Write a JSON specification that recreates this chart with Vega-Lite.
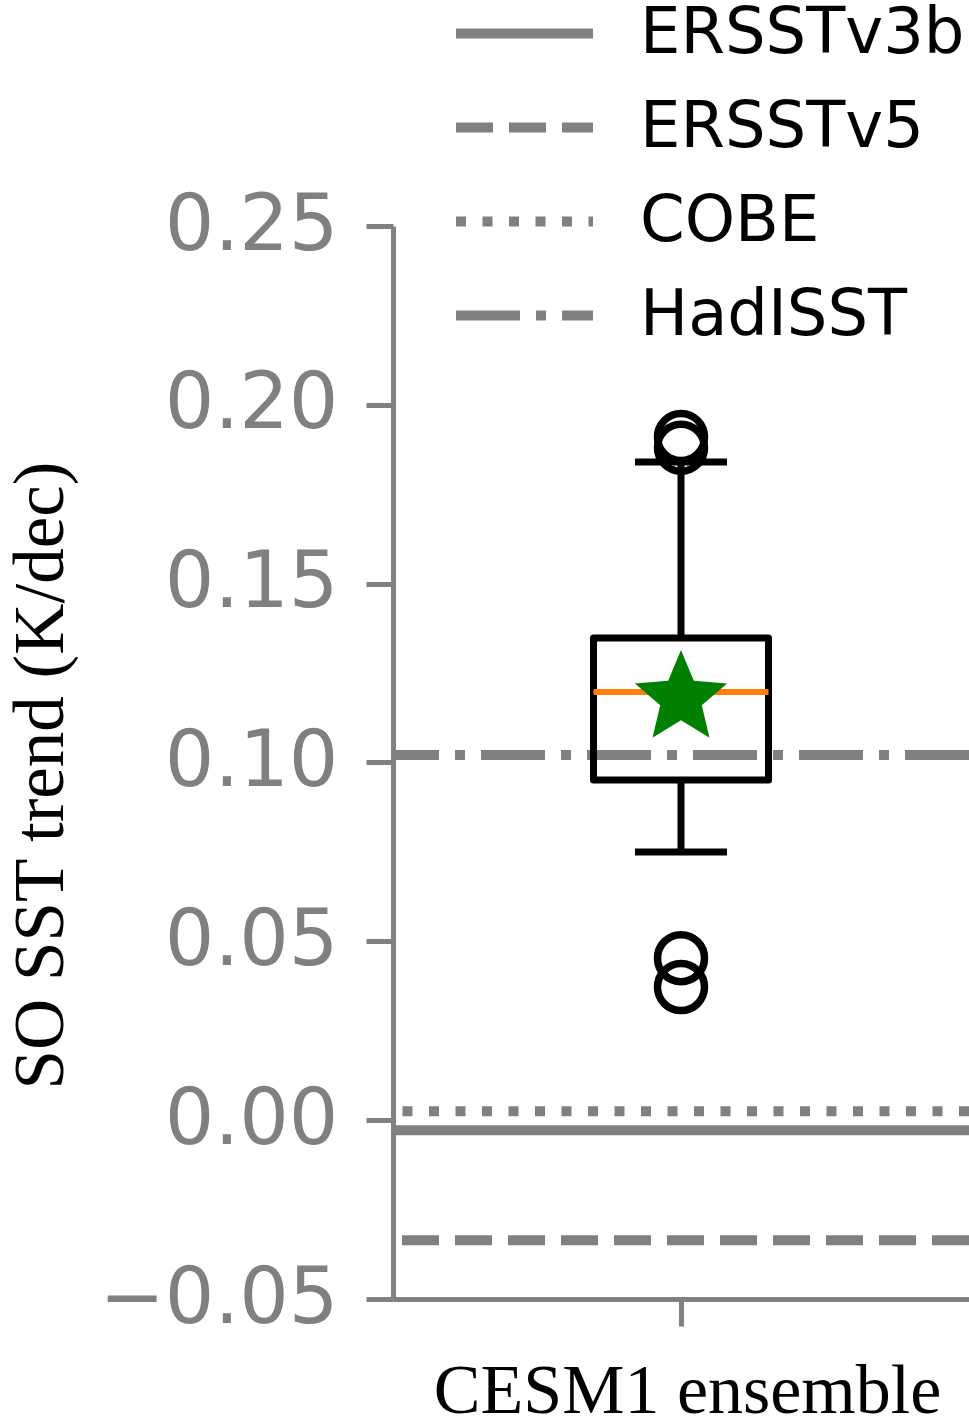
{
  "$schema": "https://vega.github.io/schema/vega-lite/v6.json",
  "autosize": "none",
  "padding": {"left": 393, "top": 226, "right": 0, "bottom": 125},
  "width": 576,
  "height": 1073,
  "background": "white",
  "config": {"view": {"stroke": null}},
  "datasets": {
    "refs": [
      {"dataset": "ERSSTv3b", "trend": -0.0028},
      {"dataset": "ERSSTv5", "trend": -0.0336},
      {"dataset": "COBE", "trend": 0.0025},
      {"dataset": "HadISST", "trend": 0.1021}
    ],
    "box": [
      {"group": "CESM1 ensemble", "lower": 0.075, "q1": 0.0951, "median": 0.1197, "q3": 0.1348, "upper": 0.184, "mean": 0.1179}
    ],
    "outliers": [
      {"group": "CESM1 ensemble", "trend": 0.191},
      {"group": "CESM1 ensemble", "trend": 0.188},
      {"group": "CESM1 ensemble", "trend": 0.0453},
      {"group": "CESM1 ensemble", "trend": 0.0372}
    ]
  },
  "layer": [
    {
      "data": {"name": "refs"},
      "mark": {"type": "rule", "color": "#808080", "strokeWidth": 10, "opacity": 1},
      "encoding": {
        "y": {
          "field": "trend", "type": "quantitative",
          "scale": {"domain": [-0.05, 0.25], "nice": false, "zero": false},
          "axis": {
            "title": "SO SST trend (K/dec)",
            "values": [-0.05, 0, 0.05, 0.1, 0.15, 0.2, 0.25], "format": ".2f",
            "labelFont": "DejaVu Sans", "labelFontSize": 78, "labelColor": "#808080", "labelPadding": 28, "labelLimit": 500,
            "titleFont": "Liberation Serif", "titleFontSize": 71, "titleFontWeight": "normal", "titleColor": "black",
            "titleBaseline": "alphabetic", "titleX": -331, "titleY": 549, "titleAlign": "center", "titleAngle": -90,
            "domainColor": "#808080", "domainWidth": 5, "tickColor": "#808080", "tickWidth": 5, "tickSize": 27, "grid": false
          }
        },
        "strokeDash": {
          "field": "dataset", "type": "nominal",
          "scale": {"domain": ["ERSSTv3b", "ERSSTv5", "COBE", "HadISST"], "range": [[1, 0], [37, 16], [10, 16.5], [64, 16, 10, 16]]},
          "legend": {
            "orient": "none", "legendX": 92, "legendY": -232, "title": null,
            "symbolType": "M-2,0L2,0", "symbolSize": 4692, "symbolStrokeWidth": 10, "symbolStrokeColor": "#808080",
            "labelFont": "DejaVu Sans", "labelFontSize": 64, "labelColor": "black", "labelOffset": 76, "rowPadding": 22, "labelLimit": 500
          }
        }
      }
    },
    {
      "data": {"name": "box"},
      "encoding": {
        "x": {
          "field": "group", "type": "nominal",
          "scale": {"domain": ["CESM1 ensemble"], "paddingInner": 0, "paddingOuter": 0},
          "axis": {
            "orient": "bottom", "title": "CESM1 ensemble", "labels": false,
            "titleFont": "Liberation Serif", "titleFontSize": 70, "titleFontWeight": "normal", "titleColor": "black",
            "titleBaseline": "alphabetic", "titleY": 113, "titleX": 294, "titleAlign": "center",
            "domainColor": "#808080", "domainWidth": 5, "tickColor": "#808080", "tickWidth": 5, "tickSize": 27, "grid": false
          }
        }
      },
      "layer": [
        {
          "mark": {"type": "rule", "color": "black", "strokeWidth": 7, "opacity": 1},
          "encoding": {"y": {"field": "lower", "type": "quantitative"}, "y2": {"field": "q1"}}
        },
        {
          "mark": {"type": "rule", "color": "black", "strokeWidth": 7, "opacity": 1},
          "encoding": {"y": {"field": "q3", "type": "quantitative"}, "y2": {"field": "upper"}}
        },
        {
          "mark": {"type": "bar", "size": 175, "fill": "white", "fillOpacity": 0, "stroke": "black", "strokeWidth": 7, "strokeJoin": "round", "opacity": 1},
          "encoding": {"y": {"field": "q1", "type": "quantitative"}, "y2": {"field": "q3"}}
        },
        {
          "mark": {"type": "tick", "color": "#ff7f0e", "size": 175, "thickness": 6, "orient": "horizontal", "opacity": 1},
          "encoding": {"y": {"field": "median", "type": "quantitative"}}
        },
        {
          "mark": {"type": "tick", "color": "black", "size": 92, "thickness": 7, "orient": "horizontal", "opacity": 1},
          "encoding": {"y": {"field": "lower", "type": "quantitative"}}
        },
        {
          "mark": {"type": "tick", "color": "black", "size": 92, "thickness": 7, "orient": "horizontal", "opacity": 1},
          "encoding": {"y": {"field": "upper", "type": "quantitative"}}
        },
        {
          "mark": {"type": "point", "shape": "M0,-1L0.2645,-0.3641L0.9511,-0.309L0.428,0.1391L0.5878,0.809L0,0.45L-0.5878,0.809L-0.428,0.1391L-0.9511,-0.309L-0.2645,-0.3641Z", "size": 9409, "filled": true, "color": "#008000", "opacity": 1},
          "encoding": {"y": {"field": "mean", "type": "quantitative"}}
        }
      ]
    },
    {
      "data": {"name": "outliers"},
      "mark": {"type": "point", "shape": "circle", "size": 2209, "filled": false, "color": "black", "strokeWidth": 7.5, "opacity": 1},
      "encoding": {
        "x": {"field": "group", "type": "nominal"},
        "y": {"field": "trend", "type": "quantitative"}
      }
    }
  ]
}
